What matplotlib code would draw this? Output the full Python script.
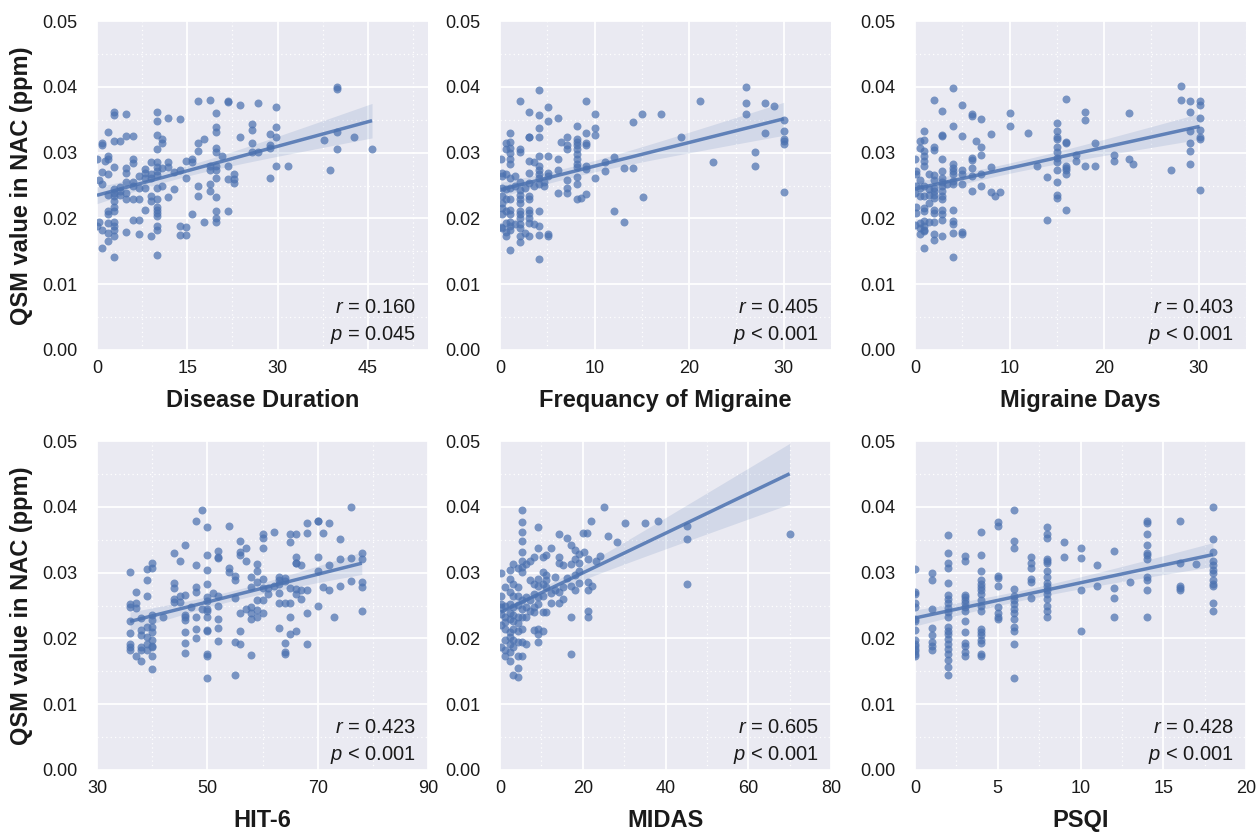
import numpy as np
import matplotlib
matplotlib.use("Agg")
import matplotlib.pyplot as plt
from matplotlib.ticker import MultipleLocator

# ---------------- data ----------------
dur_x = [39.8, 39.8, 16.8, 18.8, 21.8, 21.8, 23.8, 26.8, 29.8, 2.8, 2.8, 4.9, 9.9, 9.9, 11.8, 13.8,
         19.8, 19.8, 19.8, 25.8, 25.8, 29.8, 1.9, 4.9, 5.9, 9.9, 10.8, 10.8, 0.9, 0.9, 2.8, 3.8, 9.9,
         17.8, 16.8, 16.8, 23.8, 25.8, 28.8, 29.8, 28.8, 28.8, 25.8, 26.8, 19.8, 19.8, 20.8, 37.8,
         39.8, 39.8, 42.7, 45.7, 38.7, 29.8, 31.8, 28.8, 0.0, 1.9, 1.9, 1.3, 5.9, 5.9, 4.9, 4.9, 2.8,
         0.9, 1.9, 7.9, 7.9, 8.9, 9.9, 9.9, 9.9, 9.9, 10.8, 11.8, 11.8, 12.8, 13.8, 14.8, 15.8, 15.8,
         14.8, 18.8, 18.8, 19.8, 19.8, 19.8, 21.8, 21.8, 22.8, 22.8, 22.8, 6.9, 7.9, 8.9, 8.9, 0.3,
         0.9, 4.9, 5.9, 5.9, 2.8, 3.8, 3.8, 2.8, 6.9, 7.9, 9.9, 10.8, 12.8, 16.8, 16.8, 18.8, 18.8,
         1.9, 2.8, 3.8, 4.9, 4.9, 5.9, 6.9, 8.9, 8.9, 9.9, 11.8, 19.8, 2.8, 2.8, 2.8, 1.9, 1.9, 7.9,
         9.9, 9.9, 9.9, 9.9, 9.9, 9.9, 15.8, 19.8, 21.8, 0.0, 0.3, 0.9, 1.9, 2.8, 2.8, 2.8, 1.9, 2.8,
         5.9, 6.9, 4.9, 6.9, 8.9, 17.8, 19.8, 19.8, 13.8, 14.8, 13.8, 14.8, 1.9, 0.9, 2.8, 9.9]
dur_y = [0.0400, 0.0396, 0.0379, 0.0380, 0.0378, 0.0377, 0.0372, 0.0376, 0.0370, 0.0361, 0.0357,
         0.0359, 0.0362, 0.0348, 0.0352, 0.0351, 0.0360, 0.0339, 0.0331, 0.0343, 0.0334, 0.0339,
         0.0331, 0.0325, 0.0325, 0.0326, 0.0320, 0.0314, 0.0315, 0.0312, 0.0318, 0.0317, 0.0305,
         0.0321, 0.0314, 0.0303, 0.0324, 0.0315, 0.0328, 0.0324, 0.0312, 0.0307, 0.0301, 0.0301,
         0.0307, 0.0301, 0.0295, 0.0319, 0.0331, 0.0305, 0.0323, 0.0306, 0.0273, 0.0279, 0.0279,
         0.0262, 0.0291, 0.0295, 0.0290, 0.0287, 0.0291, 0.0284, 0.0277, 0.0269, 0.0278, 0.0270,
         0.0267, 0.0275, 0.0269, 0.0285, 0.0286, 0.0278, 0.0272, 0.0266, 0.0277, 0.0285, 0.0278,
         0.0270, 0.0273, 0.0287, 0.0291, 0.0286, 0.0262, 0.0279, 0.0273, 0.0280, 0.0274, 0.0261,
         0.0280, 0.0260, 0.0267, 0.0260, 0.0254, 0.0265, 0.0262, 0.0267, 0.0262, 0.0258, 0.0253,
         0.0255, 0.0255, 0.0249, 0.0244, 0.0247, 0.0242, 0.0239, 0.0246, 0.0246, 0.0246, 0.0250,
         0.0245, 0.0250, 0.0234, 0.0253, 0.0241, 0.0235, 0.0234, 0.0236, 0.0239, 0.0230, 0.0230,
         0.0230, 0.0234, 0.0226, 0.0230, 0.0233, 0.0233, 0.0226, 0.0218, 0.0211, 0.0212, 0.0206,
         0.0213, 0.0218, 0.0213, 0.0208, 0.0203, 0.0188, 0.0182, 0.0207, 0.0212, 0.0212, 0.0189,
         0.0194, 0.0183, 0.0193, 0.0194, 0.0189, 0.0183, 0.0178, 0.0174, 0.0197, 0.0197, 0.0179,
         0.0177, 0.0174, 0.0194, 0.0201, 0.0194, 0.0189, 0.0187, 0.0175, 0.0175, 0.0165, 0.0155,
         0.0141, 0.0144]

freq_x = [26, 4.1, 2.1, 9.1, 21.1, 26, 28, 29, 26, 3.1, 4.1, 5.1, 5.1, 6.1, 10, 14.1, 15, 17, 4.1,
          8.1, 10, 10, 9.1, 1.1, 3.1, 3.1, 4.1, 30, 30, 30, 30, 30, 28, 19.1, 0.6, 1.1, 6.5, 7.1, 7.1,
          7.1, 8.1, 8.1, 8.1, 8.1, 8.1, 8.1, 8.1, 8.1, 8.1, 8.1, 9.1, 9.1, 9.1, 9.1, 0.1, 0.6, 1.1, 1.1,
          1.1, 1.1, 2.1, 2.1, 3.1, 3.6, 4.1, 4.1, 4.1, 4.1, 4.1, 5.1, 5.1, 6.1, 6.1, 11.1, 11.1, 12.1,
          13.1, 14.1, 22.5, 27, 27, 0.2, 0.2, 0.6, 1.1, 1.6, 3.1, 3.1, 3.6, 4.1, 4.6, 4.6, 5.1, 7.1,
          7.1, 10, 0.2, 0.6, 1.1, 1.6, 2.1, 2.1, 2.1, 2.6, 3.1, 3.1, 6.1, 7.1, 8.1, 8.6, 9.1, 15.1, 30,
          0.2, 0.2, 0.6, 1.1, 2.1, 2.1, 0.2, 0.2, 0.6, 1.1, 1.1, 2.1, 2.1, 2.1, 3.1, 3.1, 3.1, 3.1, 4.1,
          12.1, 13.1, 0.1, 0.2, 0.6, 0.6, 1.1, 1.1, 1.1, 1.6, 2.1, 2.1, 2.6, 3.1, 3.6, 4.1, 0.6, 2.1,
          2.1, 4.1, 5.1, 5.1, 1.1, 4.1]
freq_y = [0.0399, 0.0395, 0.0378, 0.0379, 0.0378, 0.0376, 0.0376, 0.0371, 0.0359, 0.0361, 0.0357,
          0.0369, 0.0348, 0.0352, 0.0358, 0.0347, 0.0358, 0.0359, 0.0338, 0.0341, 0.0338, 0.0327,
          0.0330, 0.0330, 0.0324, 0.0323, 0.0323, 0.0350, 0.0333, 0.0321, 0.0318, 0.0313, 0.0330,
          0.0323, 0.0315, 0.0316, 0.0316, 0.0324, 0.0311, 0.0306, 0.0320, 0.0316, 0.0311, 0.0305,
          0.0298, 0.0290, 0.0282, 0.0278, 0.0263, 0.0253, 0.0315, 0.0311, 0.0279, 0.0275, 0.0290,
          0.0306, 0.0307, 0.0300, 0.0291, 0.0283, 0.0306, 0.0301, 0.0287, 0.0285, 0.0295, 0.0279,
          0.0274, 0.0267, 0.0261, 0.0295, 0.0269, 0.0290, 0.0274, 0.0286, 0.0272, 0.0294, 0.0276,
          0.0276, 0.0286, 0.0301, 0.0279, 0.0269, 0.0264, 0.0267, 0.0262, 0.0264, 0.0269, 0.0254,
          0.0249, 0.0253, 0.0249, 0.0255, 0.0264, 0.0259, 0.0246, 0.0261, 0.0246, 0.0244, 0.0246,
          0.0250, 0.0255, 0.0243, 0.0236, 0.0246, 0.0234, 0.0230, 0.0239, 0.0238, 0.0229, 0.0231,
          0.0237, 0.0232, 0.0240, 0.0234, 0.0224, 0.0229, 0.0229, 0.0229, 0.0224, 0.0216, 0.0206,
          0.0211, 0.0213, 0.0206, 0.0211, 0.0206, 0.0201, 0.0213, 0.0208, 0.0201, 0.0193, 0.0211,
          0.0211, 0.0195, 0.0187, 0.0185, 0.0193, 0.0180, 0.0194, 0.0188, 0.0182, 0.0192, 0.0192,
          0.0185, 0.0178, 0.0173, 0.0191, 0.0189, 0.0173, 0.0174, 0.0164, 0.0175, 0.0177, 0.0173,
          0.0152, 0.0139]

days_x = [28.1, 4.0, 2.0, 16.0, 28.1, 29.1, 30.1, 30.1, 2.9, 5.0, 6.0, 6.0, 7.0, 10.0, 18.0, 18.0,
          22.6, 29.1, 30.1, 15.0, 4.0, 10.0, 12.0, 1.0, 2.9, 2.9, 5.0, 8.0, 15.0, 15.0, 15.0, 16.0,
          16.0, 29.1, 29.1, 29.1, 29.1, 30.1, 30.1, 30.1, 19.0, 0.5, 1.0, 0.5, 1.0, 1.0, 1.0, 1.0, 2.0,
          2.0, 6.5, 7.0, 7.0, 6.0, 6.0, 0.0, 2.9, 8.0, 15.0, 15.0, 15.0, 15.0, 15.0, 15.0, 16.0, 16.0,
          16.0, 16.0, 17.0, 17.0, 18.0, 19.0, 21.0, 21.0, 22.6, 23.0, 27.1, 12.9, 14.0, 0.1, 0.1, 0.5,
          1.5, 2.0, 2.0, 2.9, 2.9, 2.9, 4.0, 4.0, 4.0, 4.0, 4.0, 5.0, 5.0, 6.0, 6.0, 5.0, 7.0, 7.0,
          6.0, 8.0, 8.5, 9.0, 0.1, 0.5, 1.0, 1.5, 2.0, 2.0, 2.9, 2.9, 3.4, 4.0, 0.0, 0.5, 1.0, 1.5,
          2.0, 2.0, 2.9, 2.9, 0.1, 0.1, 1.0, 1.0, 2.0, 2.0, 1.5, 2.9, 2.9, 2.9, 4.0, 15.0, 15.0, 16.0,
          14.0, 30.1, 0.0, 0.5, 0.5, 1.0, 1.0, 1.0, 1.0, 1.5, 2.0, 4.0, 4.0, 0.5, 2.0, 2.9, 4.0, 5.0,
          5.0, 2.0, 1.0, 4.0]
days_y = [0.0401, 0.0398, 0.0380, 0.0381, 0.0380, 0.0379, 0.0379, 0.0373, 0.0363, 0.0372, 0.0359,
          0.0355, 0.0351, 0.0360, 0.0362, 0.0350, 0.0360, 0.0362, 0.0353, 0.0345, 0.0340, 0.0340,
          0.0330, 0.0333, 0.0326, 0.0325, 0.0325, 0.0328, 0.0333, 0.0323, 0.0320, 0.0316, 0.0315,
          0.0333, 0.0315, 0.0303, 0.0282, 0.0335, 0.0324, 0.0321, 0.0314, 0.0318, 0.0319, 0.0307,
          0.0302, 0.0295, 0.0287, 0.0279, 0.0309, 0.0304, 0.0318, 0.0309, 0.0297, 0.0292, 0.0288,
          0.0291, 0.0290, 0.0278, 0.0308, 0.0301, 0.0292, 0.0286, 0.0274, 0.0255, 0.0280, 0.0277,
          0.0273, 0.0267, 0.0297, 0.0287, 0.0279, 0.0279, 0.0296, 0.0287, 0.0290, 0.0283, 0.0274,
          0.0279, 0.0263, 0.0272, 0.0267, 0.0259, 0.0267, 0.0266, 0.0259, 0.0272, 0.0262, 0.0255,
          0.0282, 0.0277, 0.0272, 0.0267, 0.0257, 0.0273, 0.0267, 0.0277, 0.0265, 0.0252, 0.0267,
          0.0249, 0.0241, 0.0240, 0.0234, 0.0240, 0.0249, 0.0246, 0.0249, 0.0244, 0.0246, 0.0241,
          0.0249, 0.0241, 0.0252, 0.0252, 0.0239, 0.0234, 0.0234, 0.0236, 0.0236, 0.0231, 0.0234,
          0.0229, 0.0218, 0.0208, 0.0216, 0.0211, 0.0213, 0.0208, 0.0224, 0.0213, 0.0206, 0.0198,
          0.0213, 0.0235, 0.0231, 0.0213, 0.0197, 0.0243, 0.0190, 0.0193, 0.0185, 0.0196, 0.0189,
          0.0183, 0.0181, 0.0194, 0.0194, 0.0196, 0.0192, 0.0177, 0.0177, 0.0174, 0.0178, 0.0180,
          0.0177, 0.0167, 0.0155, 0.0141]

hit_x = [49, 48, 50, 54, 76, 70, 70, 68, 72, 62, 60, 60, 65, 65, 66, 68, 71, 74, 56, 57, 56, 56, 60,
         46, 44, 50, 52, 52, 52, 45, 57, 66, 66, 67, 66, 70, 74, 76, 78, 78, 72, 59, 59, 40, 40, 39, 36,
         48, 50, 54, 54, 55, 55, 58, 60, 59, 63, 64, 63, 64, 70, 39, 44, 44, 78, 78, 76, 74, 71, 72, 61,
         62, 63, 65, 66, 66, 67, 67, 68, 50, 50, 50, 50, 50, 50, 48, 48, 46, 45, 44, 44, 45, 37, 39, 51,
         52, 52, 55, 58, 60, 61, 59, 60, 63, 63, 64, 65, 70, 36, 36, 37, 37, 47, 49, 50, 56, 57, 58, 58,
         59, 60, 68, 78, 38, 40, 40, 42, 46, 46, 48, 52, 58, 59, 65, 73, 36, 39, 40, 38, 40, 36, 38, 39,
         40, 46, 46, 48, 48, 52, 52, 50, 56, 55, 56, 63, 65, 66, 64, 68, 36, 36, 36, 37, 38, 38, 39, 39,
         40, 40, 38, 40, 40, 46, 46, 50, 50, 58, 64, 64, 50, 55]
hit_y = [0.0395, 0.0378, 0.0370, 0.0371, 0.0399, 0.0379, 0.0378, 0.0376, 0.0376, 0.0361, 0.0358,
         0.0352, 0.0359, 0.0347, 0.0358, 0.0360, 0.0360, 0.0351, 0.0348, 0.0338, 0.0331, 0.0327,
         0.0338, 0.0342, 0.0330, 0.0326, 0.0333, 0.0323, 0.0322, 0.0317, 0.0318, 0.0324, 0.0314,
         0.0311, 0.0315, 0.0324, 0.0320, 0.0322, 0.0330, 0.0320, 0.0312, 0.0313, 0.0302, 0.0314,
         0.0307, 0.0306, 0.0301, 0.0312, 0.0304, 0.0307, 0.0301, 0.0295, 0.0288, 0.0294, 0.0290,
         0.0285, 0.0294, 0.0292, 0.0288, 0.0287, 0.0302, 0.0289, 0.0284, 0.0277, 0.0285, 0.0278,
         0.0287, 0.0280, 0.0278, 0.0273, 0.0277, 0.0279, 0.0282, 0.0277, 0.0275, 0.0268, 0.0273,
         0.0260, 0.0274, 0.0282, 0.0263, 0.0257, 0.0245, 0.0232, 0.0212, 0.0278, 0.0270, 0.0266,
         0.0265, 0.0260, 0.0255, 0.0255, 0.0270, 0.0265, 0.0269, 0.0265, 0.0250, 0.0262, 0.0278,
         0.0277, 0.0268, 0.0259, 0.0259, 0.0269, 0.0254, 0.0254, 0.0254, 0.0249, 0.0253, 0.0247,
         0.0254, 0.0246, 0.0247, 0.0245, 0.0241, 0.0238, 0.0245, 0.0248, 0.0238, 0.0243, 0.0238,
         0.0238, 0.0241, 0.0231, 0.0235, 0.0228, 0.0233, 0.0235, 0.0228, 0.0232, 0.0230, 0.0230,
         0.0232, 0.0233, 0.0232, 0.0226, 0.0218, 0.0217, 0.0213, 0.0210, 0.0208, 0.0205, 0.0202,
         0.0197, 0.0232, 0.0210, 0.0215, 0.0201, 0.0216, 0.0196, 0.0213, 0.0212, 0.0194, 0.0191,
         0.0216, 0.0206, 0.0212, 0.0193, 0.0192, 0.0192, 0.0187, 0.0182, 0.0174, 0.0187, 0.0182,
         0.0183, 0.0192, 0.0189, 0.0187, 0.0166, 0.0173, 0.0154, 0.0193, 0.0178, 0.0176, 0.0174,
         0.0175, 0.0179, 0.0177, 0.0140, 0.0144]

midas_x = [5.2, 25.1, 5.2, 5.2, 5.2, 5.2, 9.2, 22.1, 30.1, 35.1, 38.1, 45.1, 45.1, 70.0, 45.1, 20.1,
           21.1, 14.2, 16.1, 26.2, 28.2, 9.2, 12.3, 11.2, 10.3, 17.2, 18.2, 20.2, 19.2, 18.2, 24.2,
           23.1, 21.2, 8.2, 7.2, 6.3, 3.2, 4.3, 5.2, 5.2, 2.3, 5.2, 14.2, 14.2, 15.3, 17.2, 19.2, 0.2,
           10.3, 11.2, 9.2, 13.3, 11.2, 16.1, 18.2, 19.2, 7.2, 8.3, 9.2, 10.3, 11.2, 17.2, 18.2, 19.2,
           21.2, 21.2, 22.2, 15.3, 14.2, 13.3, 12.3, 2.3, 3.2, 4.3, 1.2, 0.2, 2.3, 3.2, 4.3, 6.3, 5.2,
           8.3, 9.2, 10.3, 9.2, 7.2, 8.3, 12.3, 14.2, 15.3, 0.2, 0.2, 1.2, 2.3, 3.2, 4.3, 5.2, 6.3, 7.2,
           8.3, 10.3, 11.2, 21.2, 21.2, 17.2, 0.2, 1.2, 2.3, 2.3, 3.2, 3.2, 4.3, 5.2, 6.3, 1.2, 4.3, 0.2,
           1.2, 2.3, 3.2, 4.3, 5.2, 2.3, 8.3, 9.2, 10.3, 9.2, 9.2, 1.2, 2.3, 3.2, 4.3, 5.2, 6.3, 0.2,
           1.2, 3.2, 2.3, 4.3, 5.2, 1.2, 2.3, 17.2, 4.3, 3.2, 4.3]
midas_y = [0.0395, 0.0399, 0.0377, 0.0361, 0.0348, 0.0331, 0.0370, 0.0378, 0.0376, 0.0376, 0.0379,
           0.0371, 0.0351, 0.0358, 0.0283, 0.0360, 0.0360, 0.0358, 0.0352, 0.0356, 0.0347, 0.0338,
           0.0338, 0.0327, 0.0323, 0.0342, 0.0334, 0.0331, 0.0328, 0.0321, 0.0325, 0.0317, 0.0321,
           0.0323, 0.0318, 0.0313, 0.0313, 0.0307, 0.0317, 0.0308, 0.0304, 0.0301, 0.0323, 0.0314,
           0.0312, 0.0313, 0.0314, 0.0299, 0.0301, 0.0297, 0.0290, 0.0294, 0.0289, 0.0292, 0.0297,
           0.0302, 0.0288, 0.0283, 0.0279, 0.0282, 0.0278, 0.0280, 0.0274, 0.0284, 0.0285, 0.0273,
           0.0279, 0.0278, 0.0270, 0.0274, 0.0269, 0.0290, 0.0283, 0.0278, 0.0278, 0.0265, 0.0270,
           0.0265, 0.0265, 0.0263, 0.0258, 0.0267, 0.0263, 0.0265, 0.0253, 0.0258, 0.0247, 0.0254,
           0.0254, 0.0260, 0.0253, 0.0248, 0.0250, 0.0253, 0.0248, 0.0251, 0.0245, 0.0247, 0.0242,
           0.0240, 0.0240, 0.0240, 0.0241, 0.0233, 0.0233, 0.0237, 0.0232, 0.0238, 0.0230, 0.0235,
           0.0227, 0.0232, 0.0232, 0.0232, 0.0225, 0.0223, 0.0220, 0.0215, 0.0210, 0.0215, 0.0212,
           0.0215, 0.0202, 0.0213, 0.0215, 0.0212, 0.0207, 0.0194, 0.0197, 0.0192, 0.0198, 0.0194,
           0.0194, 0.0192, 0.0187, 0.0182, 0.0187, 0.0179, 0.0174, 0.0174, 0.0174, 0.0166, 0.0177,
           0.0155, 0.0144, 0.0141]

psqi_cols = {
    0: [0.0305, 0.0270, 0.0268, 0.0254, 0.0248, 0.0230, 0.0227, 0.0213, 0.0197, 0.0192, 0.0188,
        0.0184, 0.0181, 0.0177, 0.0174],
    1: [0.0299, 0.0289, 0.0244, 0.0216, 0.0205, 0.0194, 0.0188, 0.0183],
    2: [0.0357, 0.0330, 0.0314, 0.0307, 0.0284, 0.0266, 0.0260, 0.0254, 0.0246, 0.0240, 0.0233,
        0.0217, 0.0211, 0.0206, 0.0199, 0.0192, 0.0184, 0.0177, 0.0167, 0.0156, 0.0144],
    3: [0.0325, 0.0317, 0.0266, 0.0263, 0.0259, 0.0254, 0.0248, 0.0242, 0.0227, 0.0209, 0.0193,
        0.0188, 0.0179, 0.0173],
    4: [0.0361, 0.0326, 0.0303, 0.0288, 0.0283, 0.0278, 0.0273, 0.0268, 0.0258, 0.0250, 0.0242,
        0.0215, 0.0210, 0.0205, 0.0198, 0.0193, 0.0177, 0.0174],
    5: [0.0377, 0.0371, 0.0295, 0.0292, 0.0279, 0.0248, 0.0238, 0.0232, 0.0230],
    6: [0.0395, 0.0348, 0.0338, 0.0275, 0.0264, 0.0259, 0.0252, 0.0245, 0.0238, 0.0230, 0.0217,
        0.0212, 0.0191, 0.0140],
    7: [0.0323, 0.0314, 0.0307, 0.0290, 0.0285, 0.0261],
    8: [0.0370, 0.0358, 0.0353, 0.0321, 0.0317, 0.0314, 0.0302, 0.0294, 0.0284, 0.0279, 0.0274,
        0.0268, 0.0260, 0.0250, 0.0241, 0.0232],
    9: [0.0347, 0.0324],
    10: [0.0338, 0.0322, 0.0273, 0.0212],
    11: [0.0312, 0.0280],
    12: [0.0333, 0.0277, 0.0261, 0.0232],
    13: [0.0285],
    14: [0.0378, 0.0375, 0.0359, 0.0342, 0.0330, 0.0326, 0.0321, 0.0294, 0.0289, 0.0274, 0.0232],
    16: [0.0378, 0.0314, 0.0280, 0.0277, 0.0273],
    17: [0.0313],
    18: [0.0399, 0.0351, 0.0331, 0.0318, 0.0311, 0.0304, 0.0299, 0.0288, 0.0283, 0.0279, 0.0254,
         0.0241],
}
psqi_x = [k for k, v in psqi_cols.items() for _ in v]
psqi_y = [y for v in psqi_cols.values() for y in v]

xlabels = ["Disease Duration", "Frequancy of Migraine", "Migraine Days", "HIT-6", "MIDAS", "PSQI"]
r_text = ["0.160", "0.405", "0.403", "0.423", "0.605", "0.428"]
p_text = ["= 0.045", "< 0.001", "< 0.001", "< 0.001", "< 0.001", "< 0.001"]
xticks = [[0, 15, 30, 45], [0, 10, 20, 30], [0, 10, 20, 30],
          [30, 50, 70, 90], [0, 20, 40, 60, 80], [0, 5, 10, 15, 20]]
xlims = [(0, 55), (0, 35), (0, 35), (30, 90), (0, 80), (0, 20)]
yticks = [0.00, 0.01, 0.02, 0.03, 0.04, 0.05]
ylabel = "QSM value in NAC (ppm)"

datasets = [(dur_x, dur_y), (freq_x, freq_y), (days_x, days_y),
            (hit_x, hit_y), (midas_x, midas_y), (psqi_x, psqi_y)]

# ---------------- style ----------------
plt.rcParams['font.family'] = ['Liberation Sans', 'DejaVu Sans']
plt.rcParams['mathtext.fontset'] = 'custom'
plt.rcParams['mathtext.it'] = 'Liberation Sans:italic'
plt.rcParams['mathtext.rm'] = 'Liberation Sans'

BG = '#EAEAF2'
COL = '#4C72B0'
TXT = '#1a1a1a'

fig = plt.figure(figsize=(12.57, 8.35), dpi=100)
lefts = [97 / 1257, 500 / 1257, 915 / 1257]
bottoms = [1 - 350 / 835, 1 - 770 / 835]
w = 331 / 1257
h = 329 / 835

for i, (xs, ys) in enumerate(datasets):
    row, col = divmod(i, 3)
    ax = fig.add_axes([lefts[col], bottoms[row], w, h])
    ax.set_facecolor(BG)
    for s in ax.spines.values():
        s.set_visible(False)
    ax.set_axisbelow(True)
    xs = np.asarray(xs, float)
    ys = np.asarray(ys, float)

    ax.set_xlim(*xlims[i])
    ax.set_ylim(0, 0.05)
    ax.set_xticks(xticks[i])
    ax.set_yticks(yticks)
    ax.set_yticklabels([f"{t:.2f}" for t in yticks])
    step = xticks[i][1] - xticks[i][0]
    ax.xaxis.set_minor_locator(MultipleLocator(step / 2))
    ax.yaxis.set_minor_locator(MultipleLocator(0.005))
    ax.grid(which='major', color='white', lw=1.3)
    ax.grid(which='minor', color='white', lw=0.9, ls=(0, (1, 2.5)))
    ax.tick_params(which='both', length=0)
    ax.tick_params(axis='y', pad=14, labelsize=13, labelcolor=TXT)
    ax.tick_params(axis='x', pad=7, labelsize=13, labelcolor=TXT)

    ax.scatter(xs, ys, s=33, color=COL, alpha=0.72, linewidths=0, zorder=3)

    # OLS fit with 95% confidence band
    n = len(xs)
    b1, b0 = np.polyfit(xs, ys, 1)
    grid = np.linspace(xs.min(), xs.max(), 100)
    fit = b0 + b1 * grid
    resid = ys - (b0 + b1 * xs)
    s_err = np.sqrt(np.sum(resid ** 2) / (n - 2))
    sxx = np.sum((xs - xs.mean()) ** 2)
    se = s_err * np.sqrt(1 / n + (grid - xs.mean()) ** 2 / sxx)
    ax.fill_between(grid, fit - 1.97 * se, fit + 1.97 * se, color=COL, alpha=0.15,
                    linewidth=0, zorder=4)
    ax.plot(grid, fit, color=COL, lw=2.5, alpha=0.85, zorder=5, solid_capstyle='butt')

    ax.text(0.964, 0.13, r"$r$ = " + r_text[i], transform=ax.transAxes, ha='right',
            va='center', fontsize=14.5, color=TXT, zorder=6)
    ax.text(0.964, 0.046, r"$p$ " + p_text[i], transform=ax.transAxes, ha='right',
            va='center', fontsize=14.5, color=TXT, zorder=6)

    ax.set_xlabel(xlabels[i], fontsize=17, fontweight='bold', labelpad=9, color=TXT)
    if col == 0:
        ax.set_ylabel(ylabel, fontsize=17, fontweight='bold', labelpad=7, color=TXT)

fig.savefig("out.png", dpi=100, facecolor='white')
